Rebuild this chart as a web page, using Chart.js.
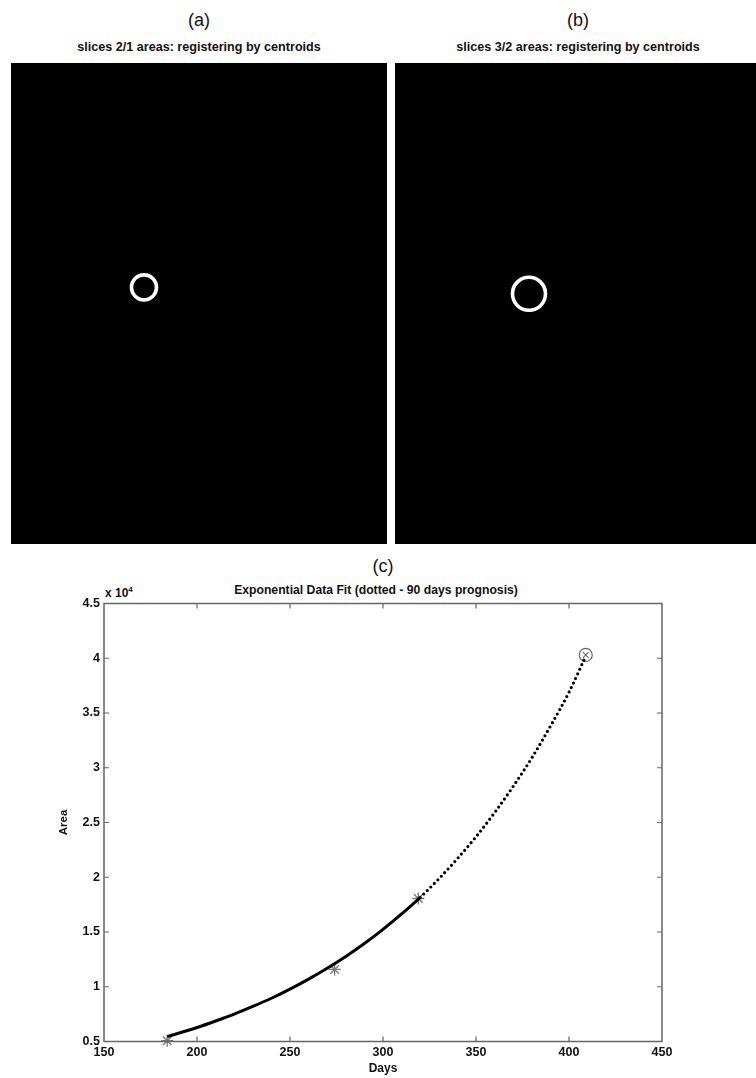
<!DOCTYPE html>
<html>
<head>
<meta charset="utf-8">
<script src="https://cdn.jsdelivr.net/npm/chart.js@4.4.1/dist/chart.umd.min.js"></script>
<style>
  html, body { margin: 0; padding: 0; background: #fff; }
  body { width: 756px; height: 1078px; position: relative; overflow: hidden;
         font-family: "Liberation Sans", Arial, Helvetica, sans-serif; color: #111; }
  .lbl { position: absolute; white-space: nowrap; transform: translate(-50%, -50%); line-height: 1; }
  .b { font-weight: bold; }
  canvas { position: absolute; }
</style>
</head>
<body>
<div class="lbl" style="left:199px; top:20px; font-size:18px;">(a)</div>
<div class="lbl b" style="left:199px; top:47px; font-size:12.6px;">slices 2/1 areas: registering by centroids</div>
<div class="lbl" style="left:578px; top:20px; font-size:18px;">(b)</div>
<div class="lbl b" style="left:578px; top:47px; font-size:12.6px;">slices 3/2 areas: registering by centroids</div>
<div class="lbl" style="left:383px; top:566px; font-size:18px;">(c)</div>
<div class="lbl b" style="left:376px; top:590px; font-size:12.2px;">Exponential Data Fit (dotted - 90 days prognosis)</div>
<div class="lbl b" style="left:105px; top:592px; font-size:12px; transform: translate(0,-50%);">x 10<sup style="font-size:8px; vertical-align: 5px;">4</sup></div>

<canvas id="pa" width="376" height="481" style="left:11px; top:63px;"></canvas>
<canvas id="pb" width="361" height="481" style="left:395px; top:63px;"></canvas>
<canvas id="pc" width="756" height="518" style="left:0px; top:560px;"></canvas>

<script>
// ---- data ----
// panel rings (relative position inside each black panel)
const ringA = [{x: 0.34, y: 0.536}];
const ringB = [{x: 0.355, y: 0.522}];

// (c) measured areas
const obsDays = [184, 274, 319];
const obsArea = [5070, 11580, 18060];

// (c) exponential fit (solid)
const fitDays = [184, 190, 200, 210, 220, 230, 240, 250, 260, 270, 280, 290, 300, 310, 320];
const fitArea = [5450, 5750, 6280, 6870, 7500, 8200, 8950, 9790, 10700, 11690, 12770, 13950, 15240, 16650, 18150];

// (c) 90 days prognosis (dotted)
const progDays = [320, 330, 340, 350, 360, 370, 380, 390, 400, 409];
const progArea = [18150, 19850, 21700, 23700, 25900, 28300, 30900, 33800, 36900, 40200];

// (c) prognosis end point
const endDays = [409];
const endArea = [40300];

// tick definitions
const xTicks = [150, 200, 250, 300, 350, 400, 450];
const yTicks = [0.5, 1, 1.5, 2, 2.5, 3, 3.5, 4, 4.5];
const yExp = 10000;

const pts = (xs, ys) => xs.map((x, i) => ({x: x, y: ys[i]}));

// ---- panels (a) and (b) ----
const blackBg = {
  id: 'blackBg',
  beforeDraw(chart) {
    const c = chart.ctx;
    c.save(); c.fillStyle = '#000'; c.fillRect(0, 0, chart.width, chart.height); c.restore();
  }
};
function panel(id, data, r) {
  new Chart(document.getElementById(id), {
    type: 'scatter',
    data: { datasets: [{ data: data, pointStyle: 'circle', pointRadius: r, pointBorderWidth: 3.6,
      borderColor: '#fff', backgroundColor: '#000', pointHoverRadius: r }] },
    options: {
      responsive: false, animation: false, events: [],
      layout: { padding: 0 },
      plugins: { legend: { display: false }, tooltip: { enabled: false } },
      scales: { x: { display: false, min: 0, max: 1 }, y: { display: false, min: 0, max: 1 } }
    },
    plugins: [blackBg]
  });
}
panel('pa', ringA, 12.5);
panel('pb', ringB, 16.5);

// ---- chart (c) ----
const boxTicks = {
  id: 'boxTicks',
  afterDraw(chart) {
    const {ctx, chartArea: a} = chart;
    const xs = chart.scales.x, ys = chart.scales.y;
    ctx.save();
    ctx.strokeStyle = '#666';
    ctx.lineWidth = 1.5;
    ctx.strokeRect(a.left, a.top, a.right - a.left, a.bottom - a.top);
    ctx.lineWidth = 1.2;
    ctx.beginPath();
    xs.ticks.forEach(t => {
      const p = xs.getPixelForValue(t.value);
      if (Math.abs(p - a.left) < 1 || Math.abs(p - a.right) < 1) return;
      ctx.moveTo(p, a.bottom); ctx.lineTo(p, a.bottom - 5);
      ctx.moveTo(p, a.top); ctx.lineTo(p, a.top + 5);
    });
    ys.ticks.forEach(t => {
      const p = ys.getPixelForValue(t.value);
      if (Math.abs(p - a.top) < 1 || Math.abs(p - a.bottom) < 1) return;
      ctx.moveTo(a.left, p); ctx.lineTo(a.left + 5, p);
      ctx.moveTo(a.right, p); ctx.lineTo(a.right - 5, p);
    });
    ctx.stroke();
    ctx.restore();
  }
};

const fam = '"Liberation Sans", Arial, sans-serif';
const tickFont = { family: fam, size: 12.5, weight: 'bold' };

new Chart(document.getElementById('pc'), {
  type: 'scatter',
  data: {
    datasets: [
      { data: pts(fitDays, fitArea), showLine: true, borderColor: '#000', borderWidth: 3,
        pointRadius: 0, cubicInterpolationMode: 'monotone', clip: false },
      { data: pts(progDays, progArea), showLine: true, borderColor: '#000', borderWidth: 3.2,
        borderDash: [0, 5], borderCapStyle: 'round', pointRadius: 0,
        cubicInterpolationMode: 'monotone', clip: false },
      { data: pts(obsDays, obsArea), showLine: false, pointStyle: 'star', pointRadius: 6,
        pointBorderWidth: 1.3, borderColor: '#777', backgroundColor: '#777', clip: false },
      { data: pts(endDays, endArea), showLine: false, pointStyle: 'circle', pointRadius: 6.5,
        pointBorderWidth: 1.2, borderColor: '#666', backgroundColor: 'rgba(0,0,0,0)', clip: false },
      { data: pts(endDays, endArea), showLine: false, pointStyle: 'crossRot', pointRadius: 4,
        pointBorderWidth: 1.1, borderColor: '#666', backgroundColor: '#666', clip: false }
    ]
  },
  options: {
    responsive: false, animation: false, events: [],
    layout: { padding: { left: 0, top: 43.5, right: 94, bottom: 0 } },
    plugins: { legend: { display: false }, tooltip: { enabled: false }, title: { display: false } },
    scales: {
      x: {
        type: 'linear', min: xTicks[0], max: xTicks[xTicks.length - 1],
        afterBuildTicks: s => { s.ticks = xTicks.map(v => ({value: v})); },
        afterFit: s => { s.height = 36.5; },
        grid: { display: false, drawTicks: false },
        border: { display: false },
        ticks: { color: '#111', font: tickFont, padding: 4, maxRotation: 0, autoSkip: false },
        title: { display: true, text: 'Days', color: '#111',
                 font: { family: fam, size: 12, weight: 'bold' },
                 padding: { top: 0, bottom: 2.5 } }
      },
      y: {
        type: 'linear', min: yTicks[0] * yExp, max: yTicks[yTicks.length - 1] * yExp,
        afterBuildTicks: s => { s.ticks = yTicks.map(v => ({value: v * yExp})); },
        afterFit: s => { s.width = 104; },
        grid: { display: false, drawTicks: false },
        border: { display: false },
        ticks: { color: '#111', font: tickFont, padding: 4, autoSkip: false,
                 callback: v => String(Math.round(v / yExp * 10) / 10) },
        title: { display: true, text: 'Area', color: '#111',
                 font: { family: fam, size: 11.5, weight: 'bold' },
                 padding: { top: 57, bottom: 0 } }
      }
    }
  },
  plugins: [boxTicks]
});
</script>
</body>
</html>
